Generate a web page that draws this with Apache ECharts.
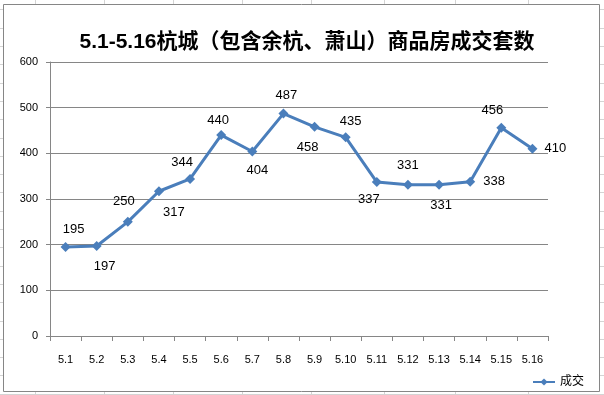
<!DOCTYPE html>
<html><head><meta charset="utf-8">
<script src="https://cdn.jsdelivr.net/npm/echarts@6/dist/echarts.min.js"></script>
<style>html,body{margin:0;padding:0;background:#fff}#c{width:604px;height:395px}</style>
</head><body><div id="c"></div>
<script>
const titleText = '5.1-5.16杭城（包含余杭、萧山）商品房成交套数';
const categories = ['5.1','5.2','5.3','5.4','5.5','5.6','5.7','5.8','5.9','5.10','5.11','5.12','5.13','5.14','5.15','5.16'];
const seriesName = '成交';
const values = [195,197,250,317,344,440,404,487,458,435,337,331,331,338,456,410];
const yTicks = [0,100,200,300,400,500,600];
// label placement (style only)
const labelOffsets = [[8,-18],[8,20],[-4,-20],[15,21],[-8,-16],[-3,-15],[5,19],[3,-18],[-7,21],[5,-16],[-8,17],[0,-19],[2,21],[24,0],[-9,-17],[23,0]];

const chart = echarts.init(document.getElementById('c'), null, {renderer:'canvas'});
const font = '"Liberation Sans","Noto Sans CJK SC",sans-serif';
const gfx = [];
// spreadsheet gridlines behind the chart
const colX = [35,104,173,242,311,384,455,528];
colX.forEach(x => gfx.push({type:'line', z:-20, shape:{x1:x+0.5,y1:0,x2:x+0.5,y2:395}, style:{stroke:'#d4d4d4',lineWidth:1}}));
for (let y = 9.4; y < 395; y += 18.3) {
  const yy = Math.round(y) + 0.5;
  gfx.push({type:'line', z:-20, shape:{x1:0,y1:yy,x2:604,y2:yy}, style:{stroke:'#d4d4d4',lineWidth:1}});
}
gfx.push({type:'rect', z:-10, shape:{x:3.5,y:4.5,width:596,height:387}, style:{fill:'#fff',stroke:'#868686',lineWidth:1}});

chart.setOption({
  animation:false,
  graphic: gfx,
  title:{text:titleText, left:302, textAlign:'center', top:27,
    textStyle:{fontSize:21, fontWeight:'bold', color:'#000', fontFamily:font}},
  legend:{data:[seriesName], left:527, top:371, itemWidth:22, itemHeight:9, itemGap:4,
    textStyle:{fontSize:12, color:'#000', fontFamily:font}},
  grid:{left:50, right:56, top:62, bottom:59, containLabel:false},
  xAxis:{type:'category', data:categories, boundaryGap:true,
    axisLine:{lineStyle:{color:'#868686', width:1}},
    axisTick:{show:true, length:5, lineStyle:{color:'#868686'}},
    axisLabel:{fontSize:11, color:'#000', fontFamily:'"Liberation Sans",sans-serif', margin:18, interval:0}},
  yAxis:{type:'value', min:yTicks[0], max:yTicks[yTicks.length-1], interval:100,
    axisLine:{show:true, lineStyle:{color:'#868686', width:1}},
    axisTick:{show:true, length:4, lineStyle:{color:'#868686'}},
    splitLine:{show:true, lineStyle:{color:'#868686', width:1}},
    axisLabel:{fontSize:11, color:'#000', fontFamily:'"Liberation Sans",sans-serif', margin:12}},
  series:[{
    name:seriesName, type:'line', data: values.map((v,i)=>({value:v, label:{offset:labelOffsets[i]}})),
    symbol:'diamond', symbolSize:10,
    itemStyle:{color:'#4a7ebb'}, lineStyle:{color:'#4a7ebb', width:3},
    label:{show:true, position:'inside', color:'#000', fontSize:13, fontFamily:font, textBorderWidth:0}
  }]
});
</script></body></html>
